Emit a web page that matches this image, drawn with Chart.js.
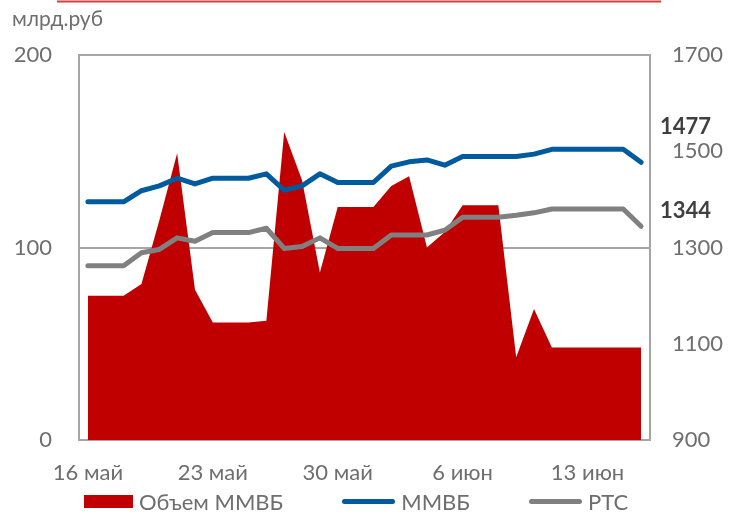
<!DOCTYPE html>
<html lang="ru">
<head>
<meta charset="utf-8">
<script src="https://cdn.jsdelivr.net/npm/chart.js@4/dist/chart.umd.min.js"></script>
<style>
  html, body { margin: 0; padding: 0; background: #fff; }
  #wrap { position: relative; width: 731px; height: 514px; }
  #legend {
    position: absolute; left: 84px; top: 488px; height: 26px;
    display: flex; align-items: center;
    font: 22px Lato, "Open Sans", sans-serif; color: #6e6e6e; white-space: nowrap;
  }
  .lg-item { display: flex; align-items: center; margin-right: 59px; }
  .lg-swatch { display: inline-block; margin-right: 6px; }
</style>
</head>
<body>
<div id="wrap">
  <canvas id="chart" width="731" height="514"></canvas>
  <div id="legend"></div>
</div>
<script>
// дни с 16 мая по 16 июня
const dates = [
  '16 май', '17 май', '18 май', '19 май', '20 май', '21 май', '22 май', '23 май',
  '24 май', '25 май', '26 май', '27 май', '28 май', '29 май', '30 май', '31 май',
  '1 июн', '2 июн', '3 июн', '4 июн', '5 июн', '6 июн', '7 июн', '8 июн',
  '9 июн', '10 июн', '11 июн', '12 июн', '13 июн', '14 июн', '15 июн', '16 июн'
];
const tickLabels = ['16 май', '23 май', '30 май', '6 июн', '13 июн'];

// объем торгов, млрд.руб (левая ось)
const volume = [
  75, 75, 75, 81, 114, 149, 78, 61, 61, 61, 62, 160, 135, 87, 121, 121,
  121, 132, 137, 100, 108, 122, 122, 122, 43, 68, 48, 48, 48, 48, 48, 48
];
// индексы (правая ось)
const micex = [
  1395, 1395, 1395, 1418, 1428, 1444, 1432, 1444, 1444, 1444, 1453, 1419, 1428, 1453, 1435, 1435,
  1435, 1469, 1478, 1482, 1471, 1489, 1489, 1489, 1489, 1494, 1504, 1504, 1504, 1504, 1504, 1477
];
const rts = [
  1262, 1262, 1262, 1289, 1296, 1320, 1313, 1331, 1331, 1331, 1340, 1298, 1302, 1320, 1298, 1298,
  1298, 1326, 1326, 1326, 1336, 1363, 1363, 1363, 1367, 1372, 1380, 1380, 1380, 1380, 1380, 1344
];
const leftTicks = { min: 0, max: 200, step: 100 };
const rightTicks = { min: 900, max: 1700, step: 200 };

const FONT = 'Lato, "Open Sans", sans-serif';
const GREY_TEXT = '#6e6e6e';
const LINE_GREY = '#a6a6a6';

// шапка, подпись оси и значения на концах линий
const decorPlugin = {
  id: 'decor',
  beforeDraw(chart) {
    const ctx = chart.ctx;
    ctx.save();
    ctx.strokeStyle = '#d0403f';
    ctx.lineWidth = 2;
    ctx.beginPath();
    ctx.moveTo(57, 1.5);
    ctx.lineTo(661, 1.5);
    ctx.stroke();
    ctx.fillStyle = GREY_TEXT;
    ctx.font = `21px ${FONT}`;
    ctx.textBaseline = 'middle';
    ctx.textAlign = 'left';
    ctx.fillText('млрд.руб', 12, 19);
    ctx.restore();
  },
  afterDatasetsDraw(chart) {
    const ctx = chart.ctx;
    ctx.save();
    ctx.font = `bold 22px ${FONT}`;
    ctx.fillStyle = '#3f3f3f';
    ctx.textBaseline = 'middle';
    ctx.textAlign = 'left';
    [[1, -35], [2, -15]].forEach(([idx, dy]) => {
      const meta = chart.getDatasetMeta(idx);
      const last = meta.data[meta.data.length - 1];
      const vals = chart.data.datasets[idx].data;
      ctx.fillText(String(vals[vals.length - 1]), chart.chartArea.right + 10, last.y + dy);
    });
    ctx.restore();
  }
};

// легенда в html под графиком
const htmlLegend = {
  id: 'htmlLegend',
  afterUpdate(chart) {
    const box = document.getElementById('legend');
    box.innerHTML = chart.data.datasets.map((ds, i) => {
      const sw = i === 0
        ? `width:49px;height:13px;background:${ds.backgroundColor};`
        : `width:53px;height:5px;border-radius:3px;background:${ds.borderColor};`;
      return `<div class="lg-item"><span class="lg-swatch" style="${sw}"></span>${ds.label}</div>`;
    }).join('');
  }
};

new Chart(document.getElementById('chart'), {
  type: 'line',
  data: {
    labels: dates,
    datasets: [
      {
        label: 'Объем ММВБ',
        data: volume,
        yAxisID: 'yL',
        backgroundColor: '#c00000',
        borderColor: '#c00000',
        borderWidth: 0,
        fill: 'origin',
        pointRadius: 0,
        tension: 0,
        order: 3
      },
      {
        label: 'ММВБ',
        data: micex,
        yAxisID: 'yR',
        borderColor: '#005a9e',
        backgroundColor: '#005a9e',
        borderWidth: 5,
        pointRadius: 0,
        tension: 0,
        fill: false,
        borderCapStyle: 'round',
        borderJoinStyle: 'round',
        order: 1
      },
      {
        label: 'РТС',
        data: rts,
        yAxisID: 'yR',
        borderColor: '#808080',
        backgroundColor: '#808080',
        borderWidth: 5,
        pointRadius: 0,
        tension: 0,
        fill: false,
        borderCapStyle: 'round',
        borderJoinStyle: 'round',
        order: 2
      }
    ]
  },
  options: {
    responsive: false,
    animation: false,
    layout: { padding: { top: 55, left: 0, right: 0, bottom: 0 } },
    plugins: {
      tooltip: { enabled: false },
      legend: { display: false }
    },
    scales: {
      x: {
        offset: true,
        grid: { display: false, drawTicks: false },
        border: { display: true, color: LINE_GREY, width: 2 },
        ticks: {
          autoSkip: false,
          maxRotation: 0,
          padding: 20,
          color: GREY_TEXT,
          font: { family: FONT, size: 22 },
          callback: (v, i) => tickLabels.includes(dates[i]) ? dates[i] : ''
        },
        afterFit: s => { s.height = 74; }
      },
      yL: {
        position: 'left',
        min: leftTicks.min,
        max: leftTicks.max,
        grid: { color: LINE_GREY, lineWidth: 2, drawTicks: false },
        border: { display: true, color: LINE_GREY, width: 2 },
        ticks: {
          stepSize: leftTicks.step,
          padding: 27,
          color: GREY_TEXT,
          font: { family: FONT, size: 22 },
          callback: v => String(v)
        },
        afterFit: s => { s.width = 79; }
      },
      yR: {
        position: 'right',
        min: rightTicks.min,
        max: rightTicks.max,
        grid: { display: false, drawTicks: false },
        border: { display: true, color: LINE_GREY, width: 2 },
        ticks: {
          stepSize: rightTicks.step,
          padding: 22,
          color: GREY_TEXT,
          font: { family: FONT, size: 22 },
          callback: v => String(v)
        },
        afterFit: s => { s.width = 81; }
      }
    }
  },
  plugins: [decorPlugin, htmlLegend]
});
</script>
</body>
</html>
